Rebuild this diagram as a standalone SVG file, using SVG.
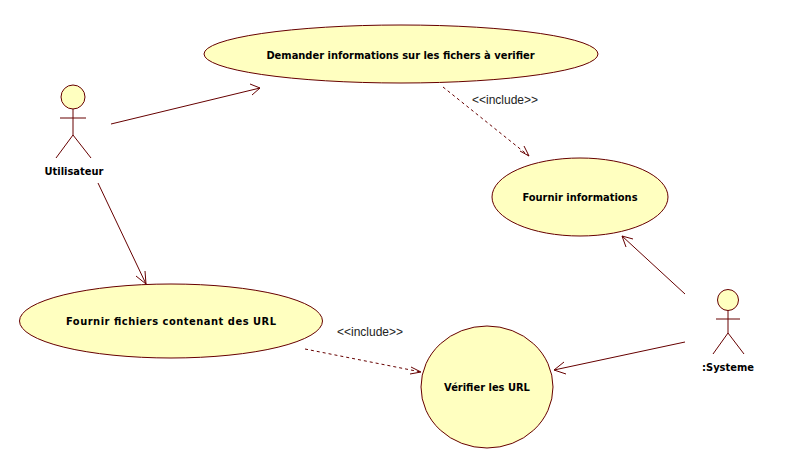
<svg xmlns="http://www.w3.org/2000/svg" width="793" height="463" viewBox="0 0 793 463">
<style>
.u{fill:#ffffc0;stroke:#660000;stroke-width:1}
.l{fill:none;stroke:#660000;stroke-width:1}
.d{stroke-dasharray:3 3}
text{font-family:"DejaVu Sans Condensed","DejaVu Sans",sans-serif;font-stretch:condensed;font-size:11px;fill:#000;text-anchor:middle}
.b{font-weight:bold}
text.i{font-family:"Liberation Sans",Arial,sans-serif;font-stretch:normal;font-size:12px;fill:#222}
</style>
<rect width="793" height="463" fill="#fff"/>
<g id="actor-utilisateur">
<circle class="u" cx="73" cy="97" r="12"/>
<path class="l" d="M73 109V135M60 118H86M73 135L56 158M73 135L91 158"/>
<text class="b" x="74" y="175">Utilisateur</text>
</g>
<g id="actor-systeme">
<circle class="u" cx="728" cy="300" r="10.500"/>
<path class="l" d="M728 310.500V333M716 319H740M728 333L713 354M728 333L744 354"/>
<text class="b" x="728" y="371">:Systeme</text>
</g>
<g id="uc-demander">
<ellipse class="u" cx="401" cy="54" ry="29" rx="197"/>
<text class="b" x="400.500" y="59">Demander informations sur les fichers à verifier</text>
</g>
<g id="uc-fournir-info">
<ellipse class="u" cx="580" cy="197" rx="88" ry="39"/>
<text class="b" x="580" y="201">Fournir informations</text>
</g>
<g id="uc-fournir-fichiers">
<ellipse class="u" cx="171" cy="321" rx="151.500" ry="37"/>
<text class="b" x="171" y="325" textLength="210" lengthAdjust="spacing">Fournir fichiers contenant des URL</text>
</g>
<g id="uc-verifier">
<ellipse class="u" cx="487" cy="387" rx="66" ry="61"/>
<text class="b" x="487" y="391">Vérifier les URL</text>
</g>
<g id="connectors">
<path class="l" d="M111 124L260 88M250 84L260 88L252 95"/>
<path class="l" d="M98 183L146 284M145 271L146 284L136 276"/>
<path class="l" d="M685 294L622 236M633 239L622 236L626 247"/>
<path class="l" d="M685 342L554 370M564 362L554 370L566 374"/>
<path class="l d" d="M443 87L529 156"/>
<path class="l" d="M520 151L529 156L524 146"/>
<path class="l d" d="M305 349L421 372"/>
<path class="l" d="M411 367L421 372L410 374"/>
<text class="i" x="505" y="104">&lt;&lt;include&gt;&gt;</text>
<text class="i" x="370" y="336">&lt;&lt;include&gt;&gt;</text>
</g>
</svg>
